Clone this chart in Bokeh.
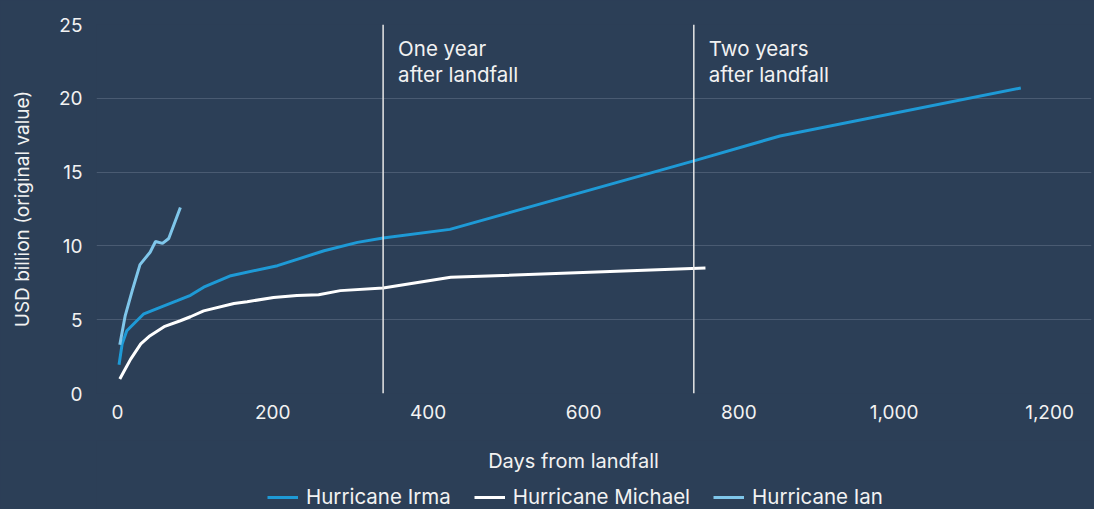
from bokeh.plotting import figure
from bokeh.layouts import column
from bokeh.models import (ColumnDataSource, Span, Label, Legend, LegendItem,
                          FixedTicker, NumeralTickFormatter, Range1d)
from bokeh.core.properties import value
from bokeh.embed import file_html
from bokeh.resources import INLINE

# ---- data ----
irma_days = [2, 6, 12, 34, 55, 77, 94, 111, 146, 206, 266, 309, 342, 428, 742, 853, 1163]
irma_vals = [1.95, 3.36, 4.25, 5.4, 5.84, 6.29, 6.65, 7.2, 7.98, 8.66, 9.67, 10.24, 10.54, 11.12, 15.76, 17.45, 20.7]

michael_days = [3, 10, 17, 30, 42, 60, 81, 94, 111, 150, 167, 201, 231, 259, 287, 342, 429, 757]
michael_vals = [0.98, 1.66, 2.33, 3.36, 3.92, 4.53, 4.93, 5.2, 5.6, 6.1, 6.22, 6.5, 6.64, 6.69, 6.97, 7.15, 7.87, 8.51]

ian_days = [3, 10, 19, 29, 42, 49, 58, 66, 81]
ian_vals = [3.3, 5.28, 6.97, 8.73, 9.57, 10.3, 10.17, 10.5, 12.6]

marker_days = [342, 742]
marker_line1 = ["One year", "Two years"]
marker_line2 = ["after landfall", "after landfall"]

x_ticks = [0, 200, 400, 600, 800, 1000, 1200]
y_ticks = [0, 5, 10, 15, 20, 25]

series_names = ["Hurricane Irma", "Hurricane Michael", "Hurricane Ian"]
x_title = "Days from landfall"
y_title = "USD billion (original value)"

# ---- style ----
BG = "#2c3f57"
GRID = "#4a5b72"
TXT = "#f2f2f2"
C_IRMA = "#1e9ad6"
C_MICHAEL = "#ffffff"
C_IAN = "#7fc6ea"
FONT = "Inter"

# ---------------- main chart ----------------
p = figure(width=1094, height=440, output_backend="svg", toolbar_location=None,
           x_range=Range1d(-27, 1254), y_range=Range1d(0, 25),
           min_border_left=96, min_border_right=3, min_border_top=24,
           min_border_bottom=47)
p.background_fill_color = BG
p.border_fill_color = BG
p.outline_line_color = None
p.styles = {"background-color": BG}

p.xgrid.grid_line_color = None
p.ygrid.grid_line_color = GRID
p.ygrid.grid_line_width = 1.2

for ax in (p.xaxis[0], p.yaxis[0]):
    ax.axis_line_color = None
    ax.major_tick_line_color = None
    ax.minor_tick_line_color = None
    ax.major_tick_out = 0
    ax.major_tick_in = 0
    ax.minor_tick_out = 0
    ax.major_label_text_color = TXT
    ax.major_label_text_font = FONT
    ax.major_label_text_font_size = "19px"
    ax.axis_label_text_color = TXT
    ax.axis_label_text_font = FONT
    ax.axis_label_text_font_size = "19px"
    ax.axis_label_text_font_style = "normal"

p.xaxis.ticker = FixedTicker(ticks=x_ticks)
p.xaxis.formatter = NumeralTickFormatter(format="0,0")
p.xaxis.major_label_standoff = 11

p.yaxis.ticker = FixedTicker(ticks=y_ticks)
p.yaxis.major_label_standoff = 14
p.yaxis.axis_label = y_title
p.yaxis.axis_label_standoff = 22

for d in marker_days:
    p.add_layout(Span(location=d, dimension="height", line_color="#e6e6e6", line_width=1.5))

r_irma = p.line(irma_days, irma_vals, line_color=C_IRMA, line_width=3)
r_michael = p.line(michael_days, michael_vals, line_color=C_MICHAEL, line_width=3)
r_ian = p.line(ian_days, ian_vals, line_color=C_IAN, line_width=3)

src = ColumnDataSource(dict(x=marker_days, y=[25, 25], t1=marker_line1, t2=marker_line2))
p.text(x="x", y="y", text="t1", source=src, x_offset=15, y_offset=24,
       text_color=TXT, text_font=value(FONT), text_font_size="20.5px",
       text_baseline="alphabetic", text_align="left")
p.text(x="x", y="y", text="t2", source=src, x_offset=15, y_offset=50,
       text_color=TXT, text_font=value(FONT), text_font_size="20.5px",
       text_baseline="alphabetic", text_align="left")

# ---------------- x title + legend strip ----------------
q = figure(width=1094, height=69, output_backend="svg", toolbar_location=None,
           x_range=Range1d(0, 995), y_range=Range1d(0, 69),
           x_axis_type=None, y_axis_type=None,
           min_border_left=96, min_border_right=3, min_border_top=0, min_border_bottom=0)
q.background_fill_color = BG
q.border_fill_color = BG
q.outline_line_color = None
q.styles = {"background-color": BG}
q.xgrid.visible = False
q.ygrid.visible = False

q.add_layout(Label(x=477, y=49, x_units="screen", y_units="screen",
                   text=x_title, text_align="center", text_baseline="alphabetic",
                   text_color=TXT, text_font=FONT, text_font_size="20px"))

# legend keys (hidden copies of the series, only shown as legend swatches)
k_irma = q.line(irma_days, irma_vals, line_color=C_IRMA, line_width=3, visible=False)
k_michael = q.line(michael_days, michael_vals, line_color=C_MICHAEL, line_width=3, visible=False)
k_ian = q.line(ian_days, ian_vals, line_color=C_IAN, line_width=3, visible=False)

legend = Legend(items=[LegendItem(label=series_names[0], renderers=[k_irma]),
                       LegendItem(label=series_names[1], renderers=[k_michael]),
                       LegendItem(label=series_names[2], renderers=[k_ian])],
                orientation="horizontal", location=(171, 0),
                padding=0, margin=0, spacing=23, label_standoff=8,
                glyph_width=31, glyph_height=22, label_height=22,
                label_text_color=TXT, label_text_font=FONT,
                label_text_font_size="20.5px", inactive_fill_alpha=0,
                background_fill_alpha=0, border_line_color=None)
q.add_layout(legend, "center")

layout = column(p, q, spacing=0)
layout.styles = {"background-color": BG}
open("out.html", "w").write(file_html(layout, INLINE))
